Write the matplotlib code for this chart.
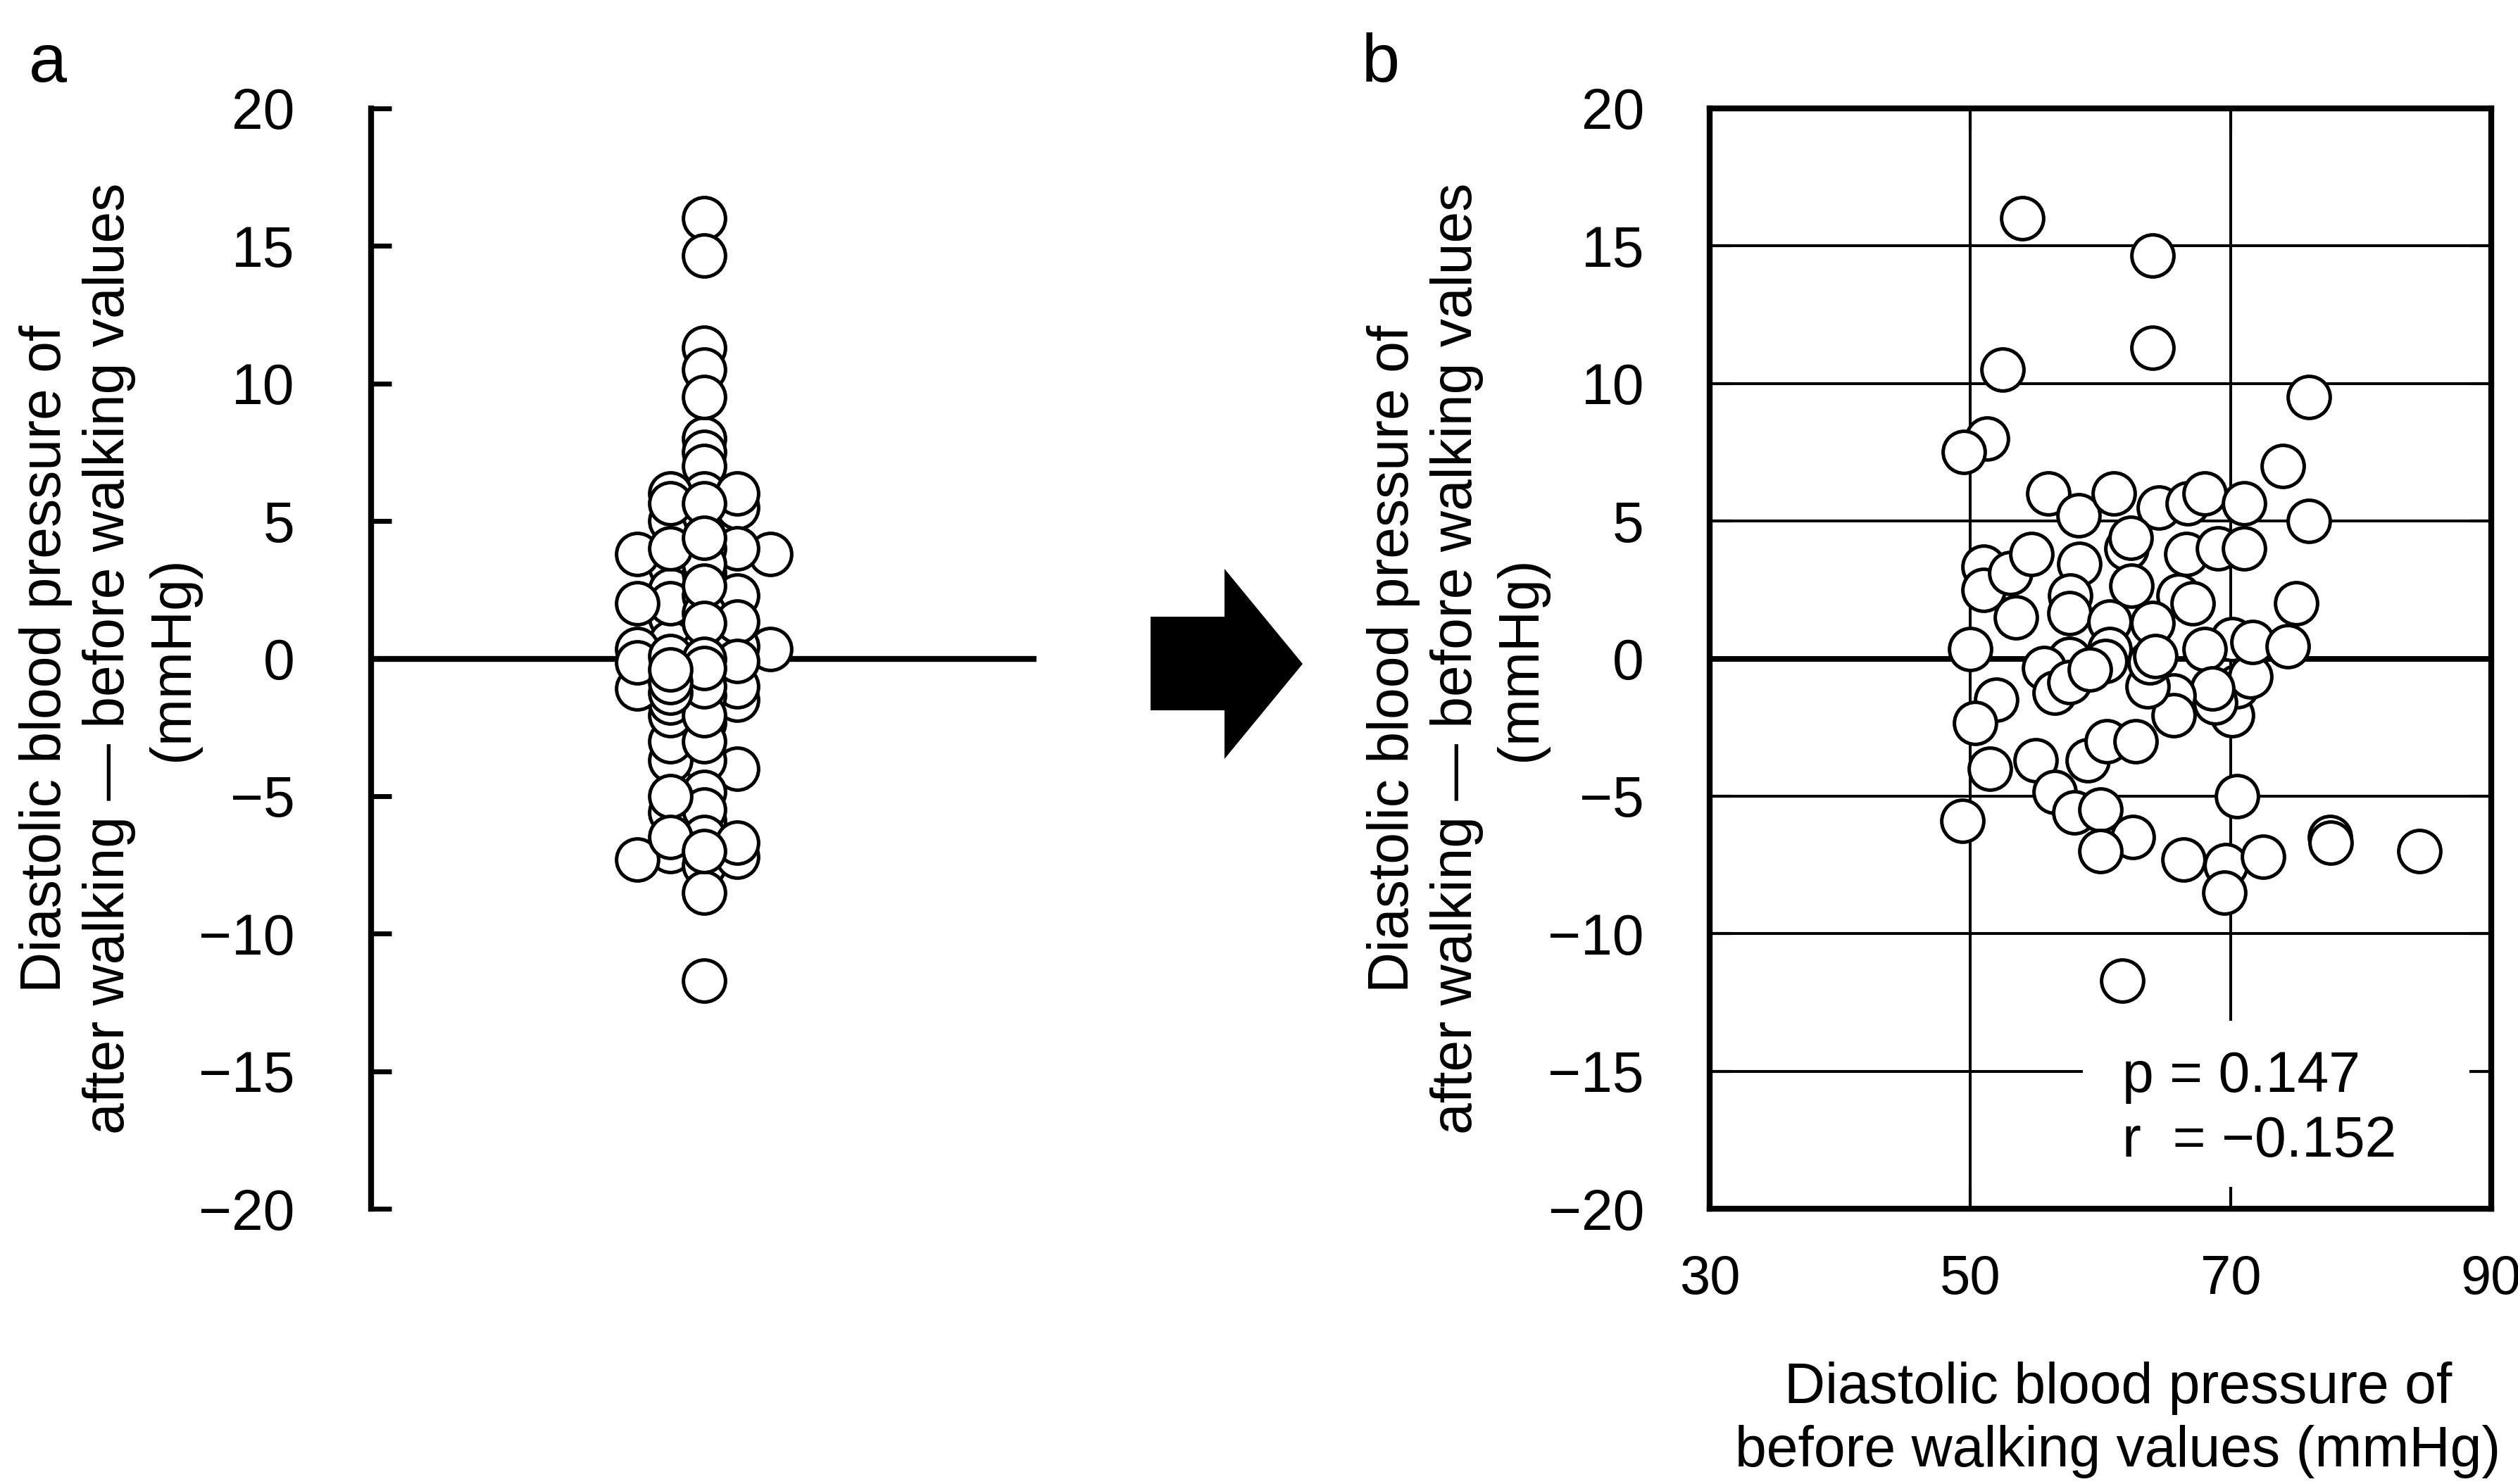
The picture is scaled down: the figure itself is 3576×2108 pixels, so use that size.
import matplotlib
matplotlib.use("Agg")
import matplotlib.pyplot as plt
from matplotlib.patches import Polygon, Rectangle
import numpy as np

plt.rcParams['font.family'] = ['Liberation Sans', 'DejaVu Sans']

# diastolic BP before walking (x, mmHg) and change after - before walking (y, mmHg)
dbp_before = [54.0, 64.0, 64.0, 52.5, 51.3, 49.5, 74.0, 76.0, 76.0, 56.0,
              58.3, 61.0, 64.5, 66.7, 68.0, 71.0, 51.0, 51.0, 53.1, 54.7,
              53.5, 50.0, 52.0, 50.4, 51.5, 49.4, 55.0, 56.5, 58.0, 60.0,
              62.5, 60.0, 59.0, 60.5, 62.7, 66.4, 69.6, 72.5, 69.5, 70.5,
              70.1, 70.5, 71.5, 68.8, 70.1, 71.7, 68.0, 74.4, 75.0, 68.6,
              65.6, 65.6, 63.6, 66.0, 67.1, 66.6, 69.0, 71.0, 58.4, 57.7,
              57.6, 62.0, 62.3, 62.4, 60.7, 60.7, 60.4, 64.0, 63.8, 64.2,
              57.6, 55.7, 56.5, 57.6, 59.2, 61.7, 77.6, 77.7, 84.5]
dbp_change = [16.0, 14.65, 11.3, 10.5, 8.0, 7.5, 7.0, 9.5, 5.0, 6.0,
              5.2, 6.0, 5.5, 5.65, 6.0, 5.65, 3.35, 2.5, 3.1, 3.8,
              1.5, 0.35, -1.5, -2.35, -4.0, -5.9, -3.7, -4.85, -5.6, -5.5,
              -6.5, -7.0, -3.7, -3.0, -3.0, -7.3, -7.5, -7.2, -8.5, -5.0,
              -2.05, -1.0, -0.65, -1.6, 0.7, 0.6, 0.35, 0.45, 2.0, -1.1,
              -1.35, -2.05, -1.0, 2.3, 2.0, 3.8, 4.0, 4.0, 3.45, 2.3,
              1.65, 4.0, 4.4, 2.65, 1.35, 0.35, -0.1, 1.3, -0.15, 0.1,
              0.0, -0.35, -1.25, -0.85, -0.4, -11.7, -6.5, -6.7, -7.0]

y_ticks = [-20, -15, -10, -5, 0, 5, 10, 15, 20]
x_ticks = [30, 50, 70, 90]
p_value = 0.147
r_value = -0.152

ylabel = ("Diastolic blood pressure of\n"
          "after walking \u2014 before walking values\n(mmHg)")
xlabel = "Diastolic blood pressure of\nbefore walking values (mmHg)"

FS = 58
W, H = 3576, 2108
fig = plt.figure(figsize=(W / 100, H / 100), dpi=100)


def px_box(left, top, right, bottom):
    return [left / W, 1 - bottom / H, (right - left) / W, (bottom - top) / H]


def swarm_offsets(values, gap=0.3, order=(0, -1, 1, -2, 2)):
    # greedy column scatter: a point goes to the first column whose
    # previous point is at least `gap` higher
    offs = np.zeros(len(values))
    last = {}
    for i in np.argsort(values)[::-1]:
        v = values[i]
        for col in order:
            if col not in last or last[col] - v >= gap:
                break
        else:
            col = max(order, key=lambda c: last[c] - v)
        offs[i] = col
        last[col] = v
    return offs


marker_kw = dict(s=1850, facecolor='white', edgecolor='black',
                 linewidths=3.6, zorder=3, clip_on=False)

# ---- panel a: column scatter ----
ax_a = fig.add_axes(px_box(527, 154, 1472, 1717))
vals = np.array(dbp_change)
ax_a.scatter(swarm_offsets(vals) * 0.1, vals, **marker_kw)
ax_a.axhline(0, color='black', lw=6, zorder=1)
ax_a.set_xlim(-1, 1)
ax_a.set_ylim(-20, 20)
ax_a.set_yticks(y_ticks)
ax_a.set_xticks([])
for s in ['top', 'right', 'bottom']:
    ax_a.spines[s].set_visible(False)
ax_a.spines['left'].set_linewidth(6)
ax_a.tick_params(axis='y', direction='in', length=21, width=5, pad=78,
                 labelsize=FS)
ax_a.set_ylabel(ylabel, fontsize=FS, linespacing=1.25)
ax_a.yaxis.set_label_coords(-0.257, 0.5)

# ---- panel b: scatter vs baseline ----
ax_b = fig.add_axes(px_box(2428, 154, 3538, 1717))
ax_b.set_xlim(x_ticks[0], x_ticks[-1])
ax_b.set_ylim(y_ticks[0], y_ticks[-1])
for xv in x_ticks[1:-1]:
    ax_b.axvline(xv, color='black', lw=2.9, zorder=0.5)
for yv in y_ticks[1:-1]:
    ax_b.axhline(yv, color='black', lw=5.8 if yv == 0 else 2.9, zorder=0.5)
ax_b.scatter(dbp_before, dbp_change, **marker_kw)
ax_b.set_xticks(x_ticks)
ax_b.set_yticks(y_ticks)
ax_b.set_axisbelow(False)
for s in ax_b.spines.values():
    s.set_linewidth(6)
ax_b.tick_params(direction='in', length=22, width=3, top=True, right=True,
                 labelsize=FS)
ax_b.tick_params(axis='x', pad=46, labelsize=56)
ax_b.tick_params(axis='y', pad=67)
ax_b.set_ylabel(ylabel, fontsize=FS, linespacing=1.25)
ax_b.yaxis.set_label_coords(-0.207, 0.5)
ax_b.set_xlabel(xlabel, fontsize=FS, linespacing=1.25)
ax_b.xaxis.set_label_coords(0.5225, -0.1386)

ax_b.add_patch(Rectangle((0.4775, 0.02), 0.5005, 0.151, transform=ax_b.transAxes,
                         facecolor='white', edgecolor='none', zorder=1))
stats = f"p = {p_value:.3f}\nr  = {r_value:.3f}".replace('-', '\u2212')
ax_b.text(0.528, 0.1438, stats, transform=ax_b.transAxes, ha='left', va='top',
          fontsize=FS, linespacing=1.26, zorder=4)

# panel letters
fig.text(41 / W, 1 - 116 / H, 'a', fontsize=70, ha='left', va='baseline')
fig.text(1934 / W, 1 - 116 / H, 'b', fontsize=70, ha='left', va='baseline')

# block arrow between panels
arrow_px = [(1634, 876), (1739, 876), (1739, 808), (1850, 943),
            (1739, 1078), (1739, 1009), (1634, 1009)]
fig.patches.append(Polygon([(x / W, 1 - y / H) for x, y in arrow_px], closed=True,
                           transform=fig.transFigure, facecolor='black',
                           edgecolor='none'))

fig.savefig('out.png', dpi=100, facecolor='white')
